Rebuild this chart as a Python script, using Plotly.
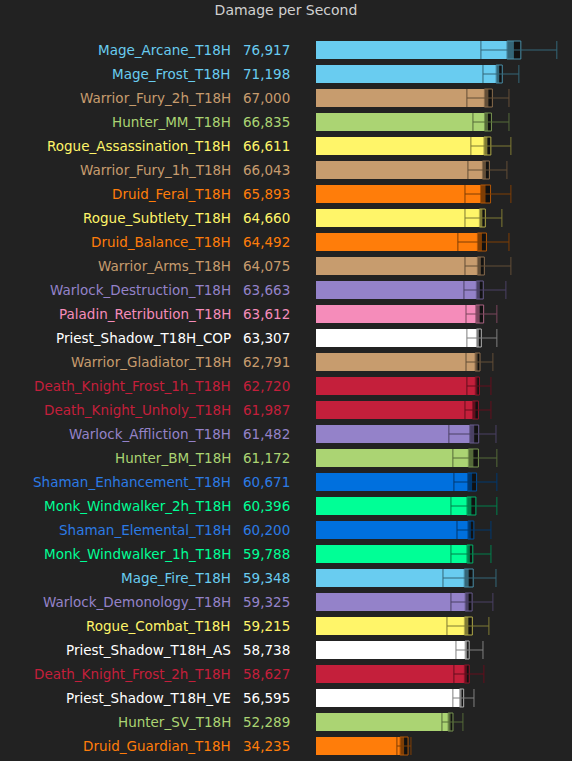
import plotly.graph_objects as go

names = [
    "Mage_Arcane_T18H", "Mage_Frost_T18H", "Warrior_Fury_2h_T18H", "Hunter_MM_T18H",
    "Rogue_Assassination_T18H", "Warrior_Fury_1h_T18H", "Druid_Feral_T18H", "Rogue_Subtlety_T18H",
    "Druid_Balance_T18H", "Warrior_Arms_T18H", "Warlock_Destruction_T18H", "Paladin_Retribution_T18H",
    "Priest_Shadow_T18H_COP", "Warrior_Gladiator_T18H", "Death_Knight_Frost_1h_T18H",
    "Death_Knight_Unholy_T18H", "Warlock_Affliction_T18H", "Hunter_BM_T18H",
    "Shaman_Enhancement_T18H", "Monk_Windwalker_2h_T18H", "Shaman_Elemental_T18H",
    "Monk_Windwalker_1h_T18H", "Mage_Fire_T18H", "Warlock_Demonology_T18H", "Rogue_Combat_T18H",
    "Priest_Shadow_T18H_AS", "Death_Knight_Frost_2h_T18H", "Priest_Shadow_T18H_VE",
    "Hunter_SV_T18H", "Druid_Guardian_T18H",
]
dps = [76917, 71198, 67000, 66835, 66611, 66043, 65893, 64660, 64492, 64075,
       63663, 63612, 63307, 62791, 62720, 61987, 61482, 61172, 60671, 60396,
       60200, 59788, 59348, 59325, 59215, 58738, 58627, 56595, 52289, 34235]
# half-width of the dark error box
err = [2700, 1200, 1550, 1350, 1350, 1350, 1950, 1150, 1750, 1350,
       1350, 1550, 950, 950, 800, 1150, 1750, 1950, 1750, 1750,
       1150, 1150, 1750, 1350, 1550, 800, 950, 800, 950, 1550]
# whisker low / high
lo = [64100, 64900, 58650, 61000, 60200, 59050, 57900, 57900, 55150, 57900,
      57500, 58300, 58650, 58300, 58650, 57900, 51650, 53200, 53600, 52450,
      54800, 52450, 49350, 52450, 50900, 54400, 53600, 53200, 48950, 31450]
hi = [93600, 78850, 75000, 75000, 75750, 74200, 75750, 72250, 75000, 75750,
      73800, 70300, 70300, 68750, 68000, 68000, 69950, 70300, 70300, 70300,
      68000, 68000, 69950, 68750, 67200, 64900, 65250, 61400, 57100, 36900]

class_colors = {
    "Mage": "#69CCF0", "Warrior": "#C79C6E", "Hunter": "#ABD473", "Rogue": "#FFF569",
    "Druid": "#FF7D0A", "Warlock": "#9482C9", "Paladin": "#F58CBA", "Priest": "#FFFFFF",
    "Death": "#C41F3B", "Shaman": "#0070DE", "Monk": "#00FF96",
}
text_colors = dict(class_colors)
text_colors["Shaman"] = "#2C7BE5"


def cls(n):
    return n.split("_")[0]


def darken(hexc, f):
    h = hexc.lstrip("#")
    r, g, b = (int(h[i:i + 2], 16) for i in (0, 2, 4))
    return "rgb(%d,%d,%d)" % (r * f, g * f, b * f)


colors = [class_colors[cls(n)] for n in names]
tcolors = [text_colors[cls(n)] for n in names]
ypos = list(range(len(names)))

BG = "#222222"
FONT = "DejaVu Sans"

fig = go.Figure()
fig.add_trace(go.Bar(
    y=ypos, x=dps, orientation="h", marker=dict(color=colors, line=dict(width=0)),
    width=0.75, hoverinfo="skip", showlegend=False,
))
fig.add_trace(go.Bar(
    y=ypos, x=[2 * e for e in err], base=[d - e for d, e in zip(dps, err)], orientation="h",
    marker=dict(color="rgba(0,0,0,0.5)",
                line=dict(color=[darken(c, 0.7) for c in colors], width=1)),
    width=0.75, hoverinfo="skip", showlegend=False,
))
for i in range(len(names)):
    fig.add_trace(go.Scatter(
        x=[dps[i]], y=[ypos[i]], mode="markers", marker=dict(size=1, opacity=0),
        error_x=dict(type="data", symmetric=False, array=[hi[i] - dps[i]],
                     arrayminus=[dps[i] - lo[i]], color=darken(colors[i], 0.5),
                     thickness=1, width=9),
        hoverinfo="skip", showlegend=False,
    ))

L = 316
W = 572
pw = W - L
annotations = []
for i, n in enumerate(names):
    annotations.append(dict(
        x=(233 - L) / pw, xref="paper", y=ypos[i], yref="y", text=n, showarrow=False,
        xanchor="right", yanchor="middle", font=dict(family=FONT, size=13.5, color=tcolors[i]),
    ))
    annotations.append(dict(
        x=(241 - L) / pw, xref="paper", y=ypos[i], yref="y", text=f"{dps[i]:,}",
        showarrow=False, xanchor="left", yanchor="middle",
        font=dict(family=FONT, size=13.5, color=tcolors[i]),
    ))

fig.update_layout(
    width=W, height=761,
    margin=dict(l=L, r=0, t=38, b=3),
    paper_bgcolor=BG, plot_bgcolor=BG,
    barmode="overlay",
    title=dict(text="Damage per Second", x=0.5, xref="container", y=1 - 10 / 761,
               yref="container", yanchor="middle", xanchor="center",
               font=dict(family=FONT, size=14, color="#D0D0D0")),
    xaxis=dict(range=[0, 99500], visible=False, fixedrange=True),
    yaxis=dict(range=[len(names) - 0.5, -0.5], visible=False, fixedrange=True),
    annotations=annotations,
)

fig.write_html(
    "out.html",
    config={"displayModeBar": False},
    post_script="document.body.style.margin='0';document.body.style.overflow='hidden';"
                "document.body.style.background='#222222';",
)
